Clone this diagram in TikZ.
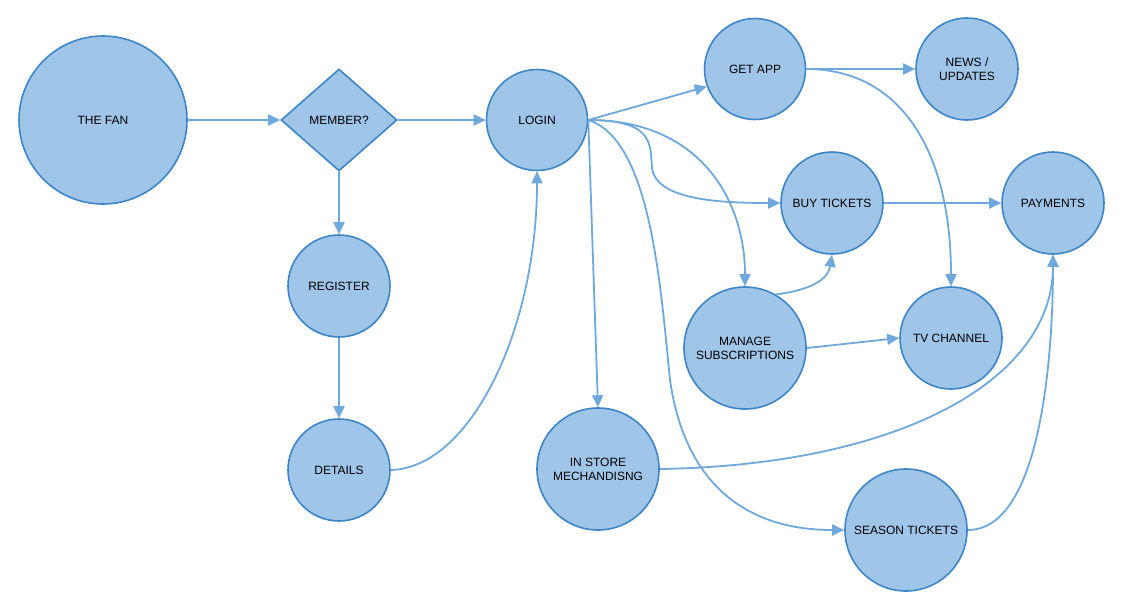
\documentclass[tikz,border=0pt]{standalone}
\usepackage{fontspec}
\setmainfont{Liberation Sans}
\usetikzlibrary{shapes.geometric,arrows.meta}
\definecolor{nfill}{HTML}{9FC5E8}
\definecolor{nborder}{HTML}{3D85C6}
\definecolor{edge}{HTML}{6FA8DC}
\begin{document}
\begin{tikzpicture}[x=1pt,y=-1pt,
  circ/.style={circle,fill=nfill,draw=nborder,line width=1.6pt,inner sep=0pt,minimum size=#1,align=center,font=\fontsize{12}{14}\selectfont},
  diam/.style={diamond,fill=nfill,draw=nborder,line width=1.6pt,inner sep=0pt,minimum width=116pt,minimum height=102pt,font=\fontsize{12}{14}\selectfont},
  conn/.style={draw=edge,line width=1.8pt,-{Triangle[length=12pt,width=11pt]}}]
\useasboundingbox (0,0) rectangle (1124,611);
% nodes
\node[circ=168pt] (fan) at (103,120) {THE FAN};
\node[diam] (member) at (339,120) {MEMBER?};
\node[circ=101pt] (login) at (537,120) {LOGIN};
\node[circ=101pt] (getapp) at (755,69) {GET APP};
\node[circ=102pt] (news) at (967,69) {NEWS /\\UPDATES};
\node[circ=102pt] (buy) at (832,203) {BUY TICKETS};
\node[circ=102pt] (pay) at (1053,203) {PAYMENTS};
\node[circ=102pt] (reg) at (339,286) {REGISTER};
\node[circ=102pt] (det) at (339,470) {DETAILS};
\node[circ=122pt] (manage) at (745,348) {MANAGE\\SUBSCRIPTIONS};
\node[circ=102pt] (tv) at (951,338) {TV CHANNEL};
\node[circ=122pt] (store) at (598,469) {IN STORE\\MECHANDISNG};
\node[circ=122pt] (season) at (906,530) {SEASON TICKETS};
% connectors
\draw[conn] (fan.east) -- (member.west);
\draw[conn] (member.east) -- (login.west);
\draw[conn] (member.south) -- (reg.north);
\draw[conn] (reg.south) -- (det.north);
\draw[conn] (det.east) .. controls (470,468) and (537,330) .. (login.south);
\draw[conn] (login.east) -- (getapp.200);
\draw[conn] (login.east) .. controls (655,120) and (650,145) .. (652,168) .. controls (656,200) and (720,203) .. (buy.west);
\draw[conn] (login.east) .. controls (700,120) and (745,200) .. (manage.north);
\draw[conn] (login.east) -- (store.north);
\draw[conn] (login.east) .. controls (650,140) and (660,280) .. (670,380) .. controls (690,520) and (790,530) .. (season.west);
\draw[conn] (getapp.east) -- (news.west);
\draw[conn] (getapp.east) .. controls (900,69) and (951,150) .. (tv.north);
\draw[conn] (buy.east) -- (pay.west);
\draw[conn] (manage.60) .. controls (810,290) and (828,280) .. (buy.south);
\draw[conn] (manage.east) -- (tv.west);
\draw[conn] (store.east) .. controls (900,465) and (1053,380) .. (pay.south);
\draw[conn] (season.east) .. controls (1040,530) and (1053,360) .. (pay.south);
\end{tikzpicture}
\end{document}
